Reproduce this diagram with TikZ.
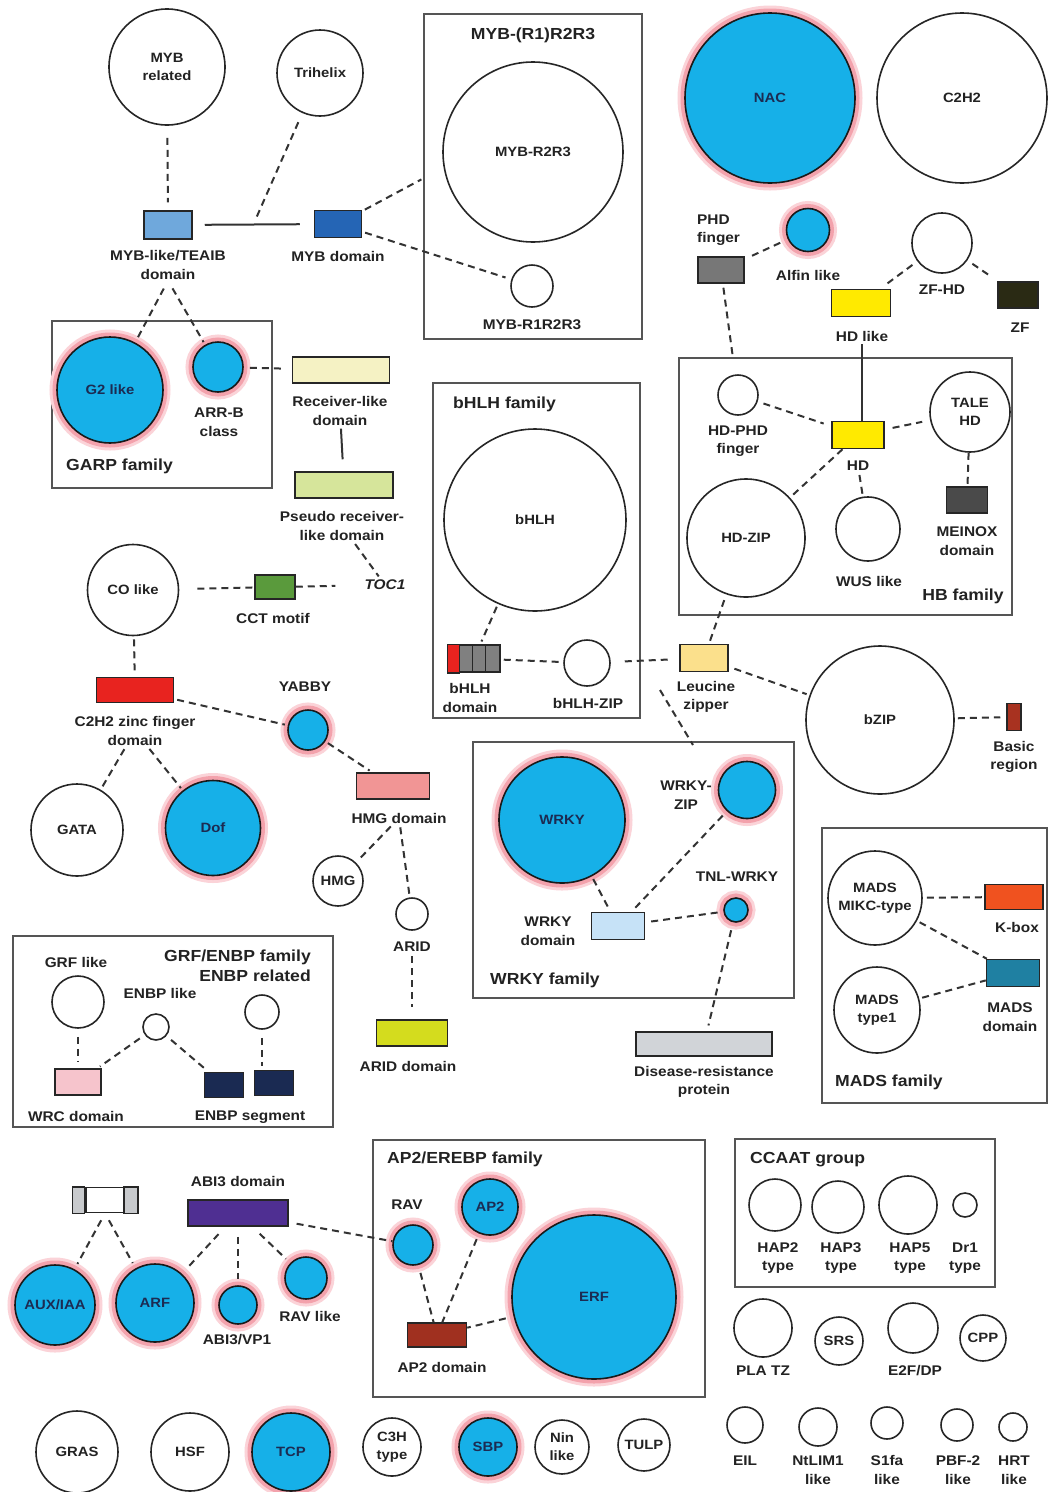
\documentclass[tikz,border=0pt]{standalone}
\usepackage{fontspec}
\newfontfamily\lab{Liberation Sans}[FakeStretch=1.1]
\usetikzlibrary{calc}
\definecolor{txt}{HTML}{222222}
\definecolor{navy}{HTML}{1C2B52}
\definecolor{lc}{HTML}{333333}
\definecolor{boxgray}{HTML}{555555}
\definecolor{tfblue}{HTML}{16B0E8}
\definecolor{haloA}{HTML}{FBD3D8}
\definecolor{haloB}{HTML}{F3A2AC}
\definecolor{myblc}{HTML}{6FA8DC}
\definecolor{mybdc}{HTML}{2565B5}
\definecolor{phdc}{HTML}{777777}
\definecolor{hdy}{HTML}{FFEA00}
\definecolor{zfc}{HTML}{2A2A14}
\definecolor{meinoxc}{HTML}{4A4A4A}
\definecolor{leucc}{HTML}{FBE08C}
\definecolor{basicc}{HTML}{A83220}
\definecolor{recvc}{HTML}{F5F2C4}
\definecolor{pseudoc}{HTML}{D6E59B}
\definecolor{cctc}{HTML}{5A9A3C}
\definecolor{c2h2c}{HTML}{E8231F}
\definecolor{hmgc}{HTML}{F19595}
\definecolor{aridc}{HTML}{D4DC1E}
\definecolor{wrcc}{HTML}{F6C4CC}
\definecolor{enbpc}{HTML}{1A2A52}
\definecolor{wrkydc}{HTML}{C6E2F7}
\definecolor{disc}{HTML}{D1D4D8}
\definecolor{kboxc}{HTML}{F0521F}
\definecolor{madsdc}{HTML}{1F80A2}
\definecolor{abi3c}{HTML}{4F2F92}
\definecolor{ap2dc}{HTML}{A0301F}
\definecolor{segc}{HTML}{808080}
\definecolor{auxg}{HTML}{C8CACD}
\begin{document}
\begin{tikzpicture}[x=1pt,y=-1pt,
  lbl/.style={font={\lab\bfseries\fontsize{14}{18.5}\selectfont}, text=txt, align=center, inner sep=1pt},
  ttl/.style={font={\lab\bfseries\fontsize{16}{20.5}\selectfont}, text=txt, inner sep=1pt},
  wc/.style={circle, draw=black!85, line width=1.6pt, fill=white, inner sep=0pt, align=center,
     font={\lab\bfseries\fontsize{13.5}{18}\selectfont}, text=txt},
  bc/.style={circle, draw=black!90, line width=1.6pt, fill=tfblue, inner sep=0pt, align=center,
     font={\lab\bfseries\fontsize{13.5}{18}\selectfont}, text=navy,
     preaction={draw=haloA, line width=15pt}, preaction={draw=haloB, line width=9pt}},
  dom/.style={rectangle, draw=black!85, line width=1.5pt, inner sep=0pt},
  fam/.style={rectangle, draw=boxgray, line width=1.6pt, inner sep=0pt, outer sep=0pt},
  dl/.style={draw=lc, line width=2pt, dash pattern=on 7pt off 5pt, shorten >=3pt, shorten <=3pt},
  sl/.style={draw=lc, line width=2pt}]
\useasboundingbox (0,0) rectangle (1049,1492);
\fill[white] (0,0) rectangle (1049,1492);

% ---------- family boxes ----------
\node[fam, minimum width=218, minimum height=325] (mybbox) at (533,176.5) {};
\node[fam, minimum width=220, minimum height=167] (garpbox) at (162,404.5) {};
\node[fam, minimum width=207, minimum height=335] (bhlhbox) at (536.5,550.5) {};
\node[fam, minimum width=333, minimum height=257] (hbbox) at (845.5,486.5) {};
\node[fam, minimum width=320, minimum height=191] (grfbox) at (173,1031.5) {};
\node[fam, minimum width=321, minimum height=256] (wrkybox) at (633.5,870) {};
\node[fam, minimum width=225, minimum height=275] (madsbox) at (934.5,965.5) {};
\node[fam, minimum width=332, minimum height=257] (ap2box) at (539,1268.5) {};
\node[fam, minimum width=260, minimum height=148] (ccaatbox) at (865,1213) {};

% ---------- MYB region ----------
\node[wc, minimum size=116] (mybrel) at (167,67) {MYB\\related};
\node[wc, minimum size=86] (trihelix) at (320,73) {Trihelix};
\node[dom, fill=myblc, minimum width=48, minimum height=28] (mybl) at (168,225) {};
\node[lbl] (mybllab) at (168,265) {MYB-like/TEAIB\\domain};
\node[dom, fill=mybdc, minimum width=47, minimum height=27] (mybdom) at (338,224) {};
\node[lbl] (mybdlab) at (338,256) {MYB domain};
\node[ttl] (mybt) at (533,35) {MYB-(R1)R2R3};
\node[wc, minimum size=180] (r2r3) at (533,152) {MYB-R2R3};
\node[wc, minimum size=42] (r1r2r3) at (532,286) {};
\node[lbl] (r1lab) at (532,325) {MYB-R1R2R3};

% ---------- top right ----------
\node[bc, minimum size=170] (nac) at (770,98) {NAC};
\node[wc, minimum size=170] (c2h2) at (962,98) {C2H2};
\node[lbl, anchor=west, align=left] (phdlab) at (696,230) {PHD\\finger};
\node[dom, fill=phdc, minimum width=46, minimum height=26] (phd) at (721,270) {};
\node[bc, minimum size=43] (alfin) at (808,230) {};
\node[lbl] (alfinlab) at (808,275) {Alfin like};
\node[wc, minimum size=60] (zfhd) at (942,243) {};
\node[lbl] (zfhdlab) at (942,290) {ZF-HD};
\node[dom, fill=hdy, minimum width=59, minimum height=27] (hdlike) at (861,303) {};
\node[lbl] (hdlikelab) at (862,336) {HD like};
\node[dom, fill=zfc, minimum width=40, minimum height=26] (zf) at (1018,295) {};
\node[lbl] (zflab) at (1020,328) {ZF};

% ---------- HB family ----------
\node[wc, minimum size=40] (hdphd) at (738,395) {};
\node[lbl] (hdphdlab) at (738,441) {HD-PHD\\finger};
\node[dom, fill=hdy, minimum width=52, minimum height=27] (hd) at (858,435) {};
\node[lbl] (hdlab) at (858,466) {HD};
\node[wc, minimum size=80] (tale) at (970,412) {TALE\\HD};
\node[dom, fill=meinoxc, minimum width=41, minimum height=26] (meinox) at (967,500) {};
\node[lbl] (meinoxlab) at (967,541) {MEINOX\\domain};
\node[wc, minimum size=118] (hdzip) at (746,538) {HD-ZIP};
\node[wc, minimum size=64] (wus) at (868,529) {};
\node[lbl] (wuslab) at (869,581) {WUS like};
\node[ttl] (hbt) at (963,596) {HB family};

% ---------- leucine / bZIP ----------
\node[dom, fill=leucc, minimum width=48, minimum height=27] (leucine) at (704,658) {};
\node[lbl] (leuclab) at (706,697) {Leucine\\zipper};
\node[wc, minimum size=148] (bzip) at (880,720) {bZIP};
\node[dom, fill=basicc, minimum width=14, minimum height=27] (basic) at (1014,717) {};
\node[lbl] (basiclab) at (1014,757) {Basic\\region};

% ---------- bHLH family ----------
\node[ttl, anchor=west] (bhlht) at (452,404) {bHLH family};
\node[wc, minimum size=182] (bhlh) at (535,520) {bHLH};
\node[dom, fill=segc, minimum width=52, minimum height=27] (bhlhdom) at (474,658.5) {};
\draw[fill=c2h2c, line width=1.5pt, draw=black!85] (bhlhdom.north west) rectangle ($(bhlhdom.south west)+(12,0)$);
\draw[line width=1.5pt, draw=black!85] ($(bhlhdom.north west)+(25,0)$) -- ($(bhlhdom.south west)+(25,0)$);
\draw[line width=1.5pt, draw=black!85] ($(bhlhdom.north west)+(38,0)$) -- ($(bhlhdom.south west)+(38,0)$);
\node[lbl] (bhlhdlab) at (470,698) {bHLH\\domain};
\node[wc, minimum size=46] (bhlhzip) at (587,663) {};
\node[lbl] (bhlhziplab) at (588,703) {bHLH-ZIP};

% ---------- GARP family ----------
\node[bc, minimum size=106] (g2like) at (110,390) {G2 like};
\node[bc, minimum size=50] (arrb) at (218,367) {};
\node[lbl] (arrblab) at (219,422) {ARR-B\\class};
\node[ttl, anchor=west] (garpt) at (65,466) {GARP family};
\node[dom, fill=recvc, minimum width=97, minimum height=26] (receiver) at (341,370) {};
\node[lbl] (recvlab) at (340,411) {Receiver-like\\domain};
\node[dom, fill=pseudoc, minimum width=98, minimum height=26] (pseudo) at (344,485) {};
\node[lbl] (pseudolab) at (342,526) {Pseudo receiver-\\like domain};
\node[lbl, font={\lab\bfseries\itshape\fontsize{14}{18}\selectfont}] (toc1) at (385,585) {TOC1};
\node[dom, fill=cctc, minimum width=40, minimum height=24] (cct) at (275,587) {};
\node[lbl] (cctlab) at (273,618) {CCT motif};
\node[wc, minimum size=91] (colike) at (133,590) {CO like};

% ---------- C2H2 / HMG ----------
\node[dom, fill=c2h2c, minimum width=77, minimum height=25] (c2h2dom) at (135,690) {};
\node[lbl] (c2h2lab) at (135,731) {C2H2 zinc finger\\domain};
\node[bc, minimum size=40] (yabby) at (308,730) {};
\node[lbl] (yabbylab) at (305,687) {YABBY};
\node[dom, fill=hmgc, minimum width=73, minimum height=26] (hmgdom) at (393,786) {};
\node[lbl] (hmglab) at (399,818) {HMG domain};
\node[wc, minimum size=92] (gata) at (77,830) {GATA};
\node[bc, minimum size=95] (dof) at (213,828) {Dof};
\node[wc, minimum size=50] (hmg) at (338,881) {HMG};
\node[wc, minimum size=32] (arid) at (412,914) {};
\node[lbl] (aridlab) at (412,947) {ARID};
\node[dom, fill=aridc, minimum width=71, minimum height=26] (ariddom) at (412,1033) {};
\node[lbl] (ariddlab) at (408,1066) {ARID domain};

% ---------- GRF/ENBP ----------
\node[ttl, anchor=east, align=right] (grft) at (312,966) {GRF/ENBP family\\ENBP related};
\node[lbl] (grflab) at (76,962) {GRF like};
\node[wc, minimum size=52] (grflike) at (78,1002) {};
\node[lbl] (enbplikelab) at (160,993) {ENBP like};
\node[wc, minimum size=26] (enbplike) at (156,1027) {};
\node[wc, minimum size=34] (enbpcir) at (262,1012) {};
\node[dom, fill=wrcc, minimum width=46, minimum height=26] (wrc) at (78,1082) {};
\node[lbl] (wrclab) at (76,1116) {WRC domain};
\node[dom, fill=enbpc, minimum width=39, minimum height=25] (enbp1) at (224,1085) {};
\node[dom, fill=enbpc, minimum width=39, minimum height=25] (enbp2) at (274,1083) {};
\node[lbl] (enbpseglab) at (250,1117) {ENBP segment};

% ---------- WRKY family ----------
\node[bc, minimum size=126] (wrky) at (562,820) {WRKY};
\node[bc, minimum size=57] (wrkyzip) at (747,790) {};
\node[lbl] (wrkyziplab) at (686,795) {WRKY-\\ZIP};
\node[bc, minimum size=24] (tnl) at (736,910) {};
\node[lbl] (tnllab) at (737,877) {TNL-WRKY};
\node[dom, fill=wrkydc, minimum width=53, minimum height=27] (wrkydom) at (618,926) {};
\node[lbl] (wrkydlab) at (548,931) {WRKY\\domain};
\node[ttl, anchor=west] (wrkyt) at (489,980) {WRKY family};
\node[dom, fill=disc, minimum width=136, minimum height=24] (disease) at (704,1044) {};
\node[lbl] (diseaselab) at (704,1082) {Disease-resistance\\protein};

% ---------- MADS family ----------
\node[wc, minimum size=94] (mikc) at (875,898) {MADS\\MIKC-type};
\node[wc, minimum size=86] (type1) at (877,1010) {MADS\\type1};
\node[dom, fill=kboxc, minimum width=58, minimum height=25] (kbox) at (1014,897) {};
\node[lbl] (kboxlab) at (1017,927) {K-box};
\node[dom, fill=madsdc, minimum width=53, minimum height=27] (madsdom) at (1013,973) {};
\node[lbl] (madsdlab) at (1010,1017) {MADS\\domain};
\node[ttl, anchor=west] (madst) at (834,1082) {MADS family};

% ---------- ARF / ABI3 ----------
\node[dom, fill=white, minimum width=64, minimum height=25] (auxrect) at (105,1200) {};
\draw[fill=auxg, draw=black!85, line width=1.5pt] (auxrect.north west) rectangle ($(auxrect.south west)+(12,0)$);
\draw[fill=auxg, draw=black!85, line width=1.5pt] ($(auxrect.north east)+(-14,0)$) rectangle (auxrect.south east);
\draw[draw=black!85, line width=2.4pt] ($(auxrect.north west)+(14,0)$) -- ($(auxrect.south west)+(14,0)$);
\node[dom, fill=abi3c, minimum width=100, minimum height=26] (abi3) at (238,1213) {};
\node[lbl] (abi3lab) at (238,1181) {ABI3 domain};
\node[bc, minimum size=80] (auxiaa) at (55,1305) {AUX/IAA};
\node[bc, minimum size=78] (arf) at (155,1303) {ARF};
\node[bc, minimum size=38] (abi3vp1) at (238,1305) {};
\node[lbl] (abi3vp1lab) at (237,1340) {ABI3/VP1};
\node[bc, minimum size=42] (ravlike) at (306,1278) {};
\node[lbl] (ravlikelab) at (310,1316) {RAV like};

% ---------- AP2/EREBP ----------
\node[ttl, anchor=west] (ap2t) at (386,1159) {AP2/EREBP family};
\node[bc, minimum size=40] (rav) at (413,1245) {};
\node[lbl] (ravlab) at (407,1205) {RAV};
\node[bc, minimum size=56] (ap2) at (490,1207) {AP2};
\node[bc, minimum size=164] (erf) at (594,1297) {ERF};
\node[dom, fill=ap2dc, minimum width=59, minimum height=24] (ap2dom) at (437,1335) {};
\node[lbl] (ap2dlab) at (442,1367) {AP2 domain};

% ---------- CCAAT and others ----------
\node[ttl, anchor=west] (ccaatt) at (749,1160) {CCAAT group};
\node[wc, minimum size=52] (hap2) at (775,1205) {};
\node[wc, minimum size=52] (hap3) at (838,1207) {};
\node[wc, minimum size=58] (hap5) at (908,1205) {};
\node[wc, minimum size=24] (dr1) at (965,1205) {};
\node[lbl] (hap2lab) at (778,1258) {HAP2\\type};
\node[lbl] (hap3lab) at (841,1258) {HAP3\\type};
\node[lbl] (hap5lab) at (910,1258) {HAP5\\type};
\node[lbl] (dr1lab) at (965,1258) {Dr1\\type};
\node[wc, minimum size=58] (platz) at (763,1328) {};
\node[lbl] (platzlab) at (763,1371) {PLA TZ};
\node[wc, minimum size=48] (srs) at (839,1341) {SRS};
\node[wc, minimum size=50] (e2f) at (913,1328) {};
\node[lbl] (e2flab) at (915,1371) {E2F/DP};
\node[wc, minimum size=46] (cpp) at (983,1338) {CPP};
\node[wc, minimum size=36] (eil) at (745,1425) {};
\node[lbl] (eillab) at (745,1461) {EIL};
\node[wc, minimum size=38] (ntlim) at (818,1427) {};
\node[lbl] (ntlimlab) at (818,1470) {NtLIM1\\like};
\node[wc, minimum size=32] (s1fa) at (887,1423) {};
\node[lbl] (s1falab) at (887,1470) {S1fa\\like};
\node[wc, minimum size=32] (pbf2) at (957,1425) {};
\node[lbl] (pbf2lab) at (958,1470) {PBF-2\\like};
\node[wc, minimum size=28] (hrt) at (1013,1427) {};
\node[lbl] (hrtlab) at (1014,1470) {HRT\\like};
\node[wc, minimum size=82] (gras) at (77,1452) {GRAS};
\node[wc, minimum size=78] (hsf) at (190,1452) {HSF};
\node[bc, minimum size=78] (tcp) at (291,1452) {TCP};
\node[wc, minimum size=58] (c3h) at (392,1447) {C3H\\type};
\node[bc, minimum size=58] (sbp) at (488,1447) {SBP};
\node[wc, minimum size=54] (nin) at (562,1447) {Nin\\like};
\node[wc, minimum size=52] (tulp) at (644,1445) {TULP};

% ---------- connectors ----------
\coordinate (trij) at (254,223);
\coordinate (mybin) at (424,178);
\coordinate (leucjn) at (660,690);
\coordinate (wrkyin) at (693,745);

\draw[dl, shorten <=12pt, shorten >=8pt] (mybrel) -- (mybl);
\draw[sl, shorten <=12pt, shorten >=14pt] (mybl) -- (mybdom);
\draw[dl, shorten <=10pt, shorten >=5pt] (trihelix) -- (trij);
\draw[dl] (mybdom) -- (mybin);
\draw[dl, shorten >=6pt] (mybdom) -- (r1r2r3);
\draw[dl, shorten <=9pt] (mybllab.south) -- (g2like);
\draw[dl, shorten <=9pt] (mybllab.south) -- (arrb);
\draw[dl, shorten <=6pt, shorten >=6pt] (arrb) -- (receiver);
\draw[sl, shorten <=2pt, shorten >=12pt] (recvlab) -- (pseudo);
\draw[dl] (pseudolab) -- (toc1);
\draw[dl, shorten <=18pt, shorten >=0pt] (colike) -- (cct);
\draw[dl, shorten <=0pt, shorten >=28pt] (cct) -- (toc1);
\draw[dl] (colike) -- (c2h2dom);
\draw[dl] (c2h2dom) -- (yabby);
\draw[dl] (yabby) -- (hmgdom);
\draw[dl] (c2h2lab) -- (gata);
\draw[dl] (c2h2lab) -- (dof);
\draw[dl] (hmglab) -- (hmg);
\draw[dl] (hmglab) -- (arid);
\draw[dl, shorten >=12pt] (aridlab) -- (ariddom);
\draw[dl, shorten <=8pt, shorten >=6pt] (grflike) -- (wrc);
\draw[dl, shorten <=6pt] (enbplike) -- (wrc);
\draw[dl, shorten <=6pt, shorten >=6pt] (enbplike) -- (enbp1);
\draw[dl, shorten <=8pt, shorten >=4pt] (enbpcir.south) -- (enbpcir.south |- enbp2.north);
% WRKY
\draw[dl] (wrky) -- (wrkydom);
\draw[dl, shorten <=6pt] (wrkyzip) -- (wrkydom);
\draw[dl, shorten <=6pt] (wrkydom) -- (tnl);
\draw[dl, shorten <=8pt, shorten >=6pt] (tnl) -- (disease);
\draw[dl, shorten <=0pt, shorten >=0pt] (leucjn) -- (wrkyin);
% bHLH / bZIP
\draw[dl] (bhlh) -- (bhlhdom);
\draw[dl] (bhlhdom) -- (bhlhzip);
\draw[dl, shorten <=14pt, shorten >=8pt] (bhlhzip) -- (leucine);
\draw[dl, shorten <=6pt] (leucine) -- (bzip);
\draw[dl, shorten <=3pt, shorten >=6pt] (bzip) -- (basic);
% HB
\draw[dl, shorten <=6pt] (hdzip) -- (leucine);
\draw[dl, shorten <=4pt, shorten >=16pt] (phd) -- (hdphd);
\draw[dl, shorten <=8pt, shorten >=6pt] (phd) -- (alfin);
\draw[dl, shorten <=6pt, shorten >=6pt] (zfhd) -- (hdlike);
\draw[dl, shorten <=6pt, shorten >=8pt] (zfhd) -- (zf);
\draw[sl, shorten <=2pt] (hdlikelab.south) -- (hdlikelab.south |- hd.north);
\draw[dl, shorten <=6pt, shorten >=8pt] (hdphd) -- (hd);
\draw[dl, shorten <=8pt, shorten >=8pt] (hd) -- (tale);
\draw[dl, shorten <=0pt, shorten >=0pt] (tale) -- (meinox);
\draw[dl, shorten <=0pt] (hd) -- (hdzip);
\draw[dl, shorten >=0pt] (hdlab) -- (wus);
% MADS
\draw[dl, shorten <=4pt, shorten >=2pt] (mikc) -- (kbox);
\draw[dl, shorten >=0pt] (mikc) -- (madsdom);
\draw[dl, shorten >=0pt] (type1) -- (madsdom);
% ARF / ABI3 / AP2
\draw[dl, shorten <=8pt, shorten >=6pt] (auxrect.south) -- (auxiaa);
\draw[dl, shorten <=8pt, shorten >=6pt] (auxrect.south) -- (arf);
\draw[dl, shorten <=10pt, shorten >=6pt] (abi3) -- (arf);
\draw[dl, shorten <=10pt, shorten >=6pt] (abi3) -- (abi3vp1);
\draw[dl, shorten <=10pt, shorten >=6pt] (abi3) -- (ravlike);
\draw[dl, shorten <=8pt, shorten >=0pt] (abi3) -- (rav);
\draw[dl, shorten <=8pt, shorten >=0pt] (rav) -- (ap2dom);
\draw[dl, shorten <=6pt, shorten >=0pt] (ap2) -- (ap2dom);
\draw[dl, shorten <=8pt, shorten >=0pt] (erf) -- (ap2dom);
\end{tikzpicture}
\end{document}
